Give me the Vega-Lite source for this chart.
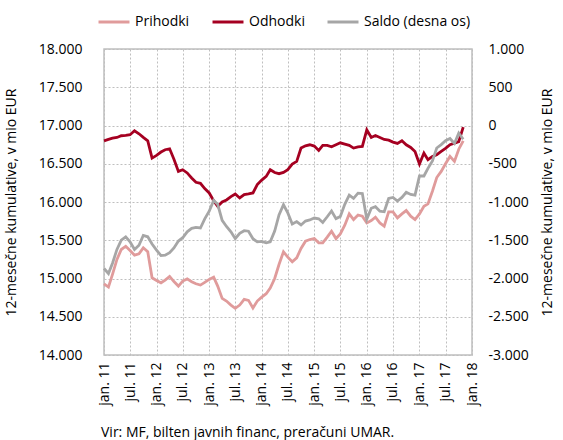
{
  "$schema": "https://vega.github.io/schema/vega-lite/v6.json",
  "width": 368,
  "height": 306,
  "autosize": "none",
  "padding": {"left": 104, "top": 49, "right": 91, "bottom": 85},
  "background": "white",
  "title": {
    "text": "Vir: MF, bilten javnih financ, preračuni UMAR.",
    "orient": "bottom",
    "anchor": "start",
    "frame": "group",
    "fontSize": 14,
    "fontWeight": "normal",
    "font": "Open Sans",
    "color": "#000000",
    "offset": 21,
    "dx": -3
  },
  "data": {
    "values": [
      {"d": "2011-01-01", "p": 14931, "o": 16800, "s": -1869},
      {"d": "2011-02-01", "p": 14888, "o": 16818, "s": -1935},
      {"d": "2011-03-01", "p": 15053, "o": 16835, "s": -1800},
      {"d": "2011-04-01", "p": 15249, "o": 16844, "s": -1620},
      {"d": "2011-05-01", "p": 15379, "o": 16866, "s": -1500},
      {"d": "2011-06-01", "p": 15422, "o": 16870, "s": -1455},
      {"d": "2011-07-01", "p": 15366, "o": 16879, "s": -1520},
      {"d": "2011-08-01", "p": 15305, "o": 16931, "s": -1621},
      {"d": "2011-09-01", "p": 15322, "o": 16892, "s": -1566},
      {"d": "2011-10-01", "p": 15401, "o": 16844, "s": -1438},
      {"d": "2011-11-01", "p": 15349, "o": 16800, "s": -1455},
      {"d": "2011-12-01", "p": 15009, "o": 16574, "s": -1550},
      {"d": "2012-01-01", "p": 14975, "o": 16609, "s": -1628},
      {"d": "2012-02-01", "p": 14944, "o": 16653, "s": -1700},
      {"d": "2012-03-01", "p": 14979, "o": 16683, "s": -1695},
      {"d": "2012-04-01", "p": 15027, "o": 16696, "s": -1662},
      {"d": "2012-05-01", "p": 14960, "o": 16560, "s": -1600},
      {"d": "2012-06-01", "p": 14901, "o": 16400, "s": -1510},
      {"d": "2012-07-01", "p": 14966, "o": 16422, "s": -1467},
      {"d": "2012-08-01", "p": 14995, "o": 16380, "s": -1390},
      {"d": "2012-09-01", "p": 14957, "o": 16314, "s": -1345},
      {"d": "2012-10-01", "p": 14931, "o": 16257, "s": -1332},
      {"d": "2012-11-01", "p": 14914, "o": 16244, "s": -1340},
      {"d": "2012-12-01", "p": 14950, "o": 16175, "s": -1220},
      {"d": "2013-01-01", "p": 14988, "o": 16118, "s": -1120},
      {"d": "2013-02-01", "p": 15018, "o": 16018, "s": -980},
      {"d": "2013-03-01", "p": 14901, "o": 15944, "s": -1030},
      {"d": "2013-04-01", "p": 14740, "o": 16001, "s": -1240},
      {"d": "2013-05-01", "p": 14705, "o": 16027, "s": -1320},
      {"d": "2013-06-01", "p": 14653, "o": 16070, "s": -1390},
      {"d": "2013-07-01", "p": 14610, "o": 16105, "s": -1480},
      {"d": "2013-08-01", "p": 14653, "o": 16053, "s": -1410},
      {"d": "2013-09-01", "p": 14727, "o": 16096, "s": -1375},
      {"d": "2013-10-01", "p": 14714, "o": 16105, "s": -1382},
      {"d": "2013-11-01", "p": 14615, "o": 16118, "s": -1480},
      {"d": "2013-12-01", "p": 14705, "o": 16227, "s": -1521},
      {"d": "2014-01-01", "p": 14757, "o": 16287, "s": -1515},
      {"d": "2014-02-01", "p": 14801, "o": 16335, "s": -1534},
      {"d": "2014-03-01", "p": 14875, "o": 16422, "s": -1520},
      {"d": "2014-04-01", "p": 15000, "o": 16385, "s": -1380},
      {"d": "2014-05-01", "p": 15183, "o": 16370, "s": -1170},
      {"d": "2014-06-01", "p": 15349, "o": 16387, "s": -1036},
      {"d": "2014-07-01", "p": 15279, "o": 16422, "s": -1143},
      {"d": "2014-08-01", "p": 15218, "o": 16496, "s": -1287},
      {"d": "2014-09-01", "p": 15270, "o": 16531, "s": -1256},
      {"d": "2014-10-01", "p": 15392, "o": 16705, "s": -1300},
      {"d": "2014-11-01", "p": 15488, "o": 16735, "s": -1249},
      {"d": "2014-12-01", "p": 15509, "o": 16748, "s": -1235},
      {"d": "2015-01-01", "p": 15522, "o": 16731, "s": -1210},
      {"d": "2015-02-01", "p": 15466, "o": 16674, "s": -1220},
      {"d": "2015-03-01", "p": 15466, "o": 16740, "s": -1267},
      {"d": "2015-04-01", "p": 15540, "o": 16740, "s": -1193},
      {"d": "2015-05-01", "p": 15618, "o": 16722, "s": -1117},
      {"d": "2015-06-01", "p": 15522, "o": 16748, "s": -1217},
      {"d": "2015-07-01", "p": 15583, "o": 16774, "s": -1188},
      {"d": "2015-08-01", "p": 15696, "o": 16757, "s": -1030},
      {"d": "2015-09-01", "p": 15844, "o": 16740, "s": -910},
      {"d": "2015-10-01", "p": 15770, "o": 16705, "s": -952},
      {"d": "2015-11-01", "p": 15830, "o": 16720, "s": -885},
      {"d": "2015-12-01", "p": 15814, "o": 16727, "s": -890},
      {"d": "2016-01-01", "p": 15727, "o": 16944, "s": -1225},
      {"d": "2016-02-01", "p": 15757, "o": 16844, "s": -1082},
      {"d": "2016-03-01", "p": 15801, "o": 16870, "s": -1062},
      {"d": "2016-04-01", "p": 15727, "o": 16844, "s": -1120},
      {"d": "2016-05-01", "p": 15683, "o": 16818, "s": -1128},
      {"d": "2016-06-01", "p": 15870, "o": 16809, "s": -954},
      {"d": "2016-07-01", "p": 15870, "o": 16783, "s": -940},
      {"d": "2016-08-01", "p": 15792, "o": 16766, "s": -987},
      {"d": "2016-09-01", "p": 15844, "o": 16800, "s": -940},
      {"d": "2016-10-01", "p": 15888, "o": 16748, "s": -873},
      {"d": "2016-11-01", "p": 15814, "o": 16713, "s": -902},
      {"d": "2016-12-01", "p": 15770, "o": 16661, "s": -910},
      {"d": "2017-01-01", "p": 15844, "o": 16496, "s": -660},
      {"d": "2017-02-01", "p": 15944, "o": 16640, "s": -660},
      {"d": "2017-03-01", "p": 15975, "o": 16553, "s": -560},
      {"d": "2017-04-01", "p": 16140, "o": 16596, "s": -462},
      {"d": "2017-05-01", "p": 16320, "o": 16618, "s": -294},
      {"d": "2017-06-01", "p": 16400, "o": 16661, "s": -250},
      {"d": "2017-07-01", "p": 16500, "o": 16700, "s": -198},
      {"d": "2017-08-01", "p": 16596, "o": 16748, "s": -170},
      {"d": "2017-09-01", "p": 16531, "o": 16770, "s": -235},
      {"d": "2017-10-01", "p": 16690, "o": 16790, "s": -100},
      {"d": "2017-11-01", "p": 16800, "o": 16979, "s": -180}
    ]
  },
  "encoding": {
    "x": {
      "field": "d", "type": "temporal",
      "scale": {"type": "utc", "domain": [{"year": 2011, "month": 1, "date": 1, "utc": true}, {"year": 2018, "month": 1, "date": 1, "utc": true}]},
      "axis": {
        "title": null,
        "values": [
          {"year": 2011, "month": 1, "date": 1, "utc": true}, {"year": 2011, "month": 7, "date": 1, "utc": true},
          {"year": 2012, "month": 1, "date": 1, "utc": true}, {"year": 2012, "month": 7, "date": 1, "utc": true},
          {"year": 2013, "month": 1, "date": 1, "utc": true}, {"year": 2013, "month": 7, "date": 1, "utc": true},
          {"year": 2014, "month": 1, "date": 1, "utc": true}, {"year": 2014, "month": 7, "date": 1, "utc": true},
          {"year": 2015, "month": 1, "date": 1, "utc": true}, {"year": 2015, "month": 7, "date": 1, "utc": true},
          {"year": 2016, "month": 1, "date": 1, "utc": true}, {"year": 2016, "month": 7, "date": 1, "utc": true},
          {"year": 2017, "month": 1, "date": 1, "utc": true}, {"year": 2017, "month": 7, "date": 1, "utc": true},
          {"year": 2018, "month": 1, "date": 1, "utc": true}
        ],
        "labelExpr": "(utcmonth(datum.value) == 0 ? 'jan. ' : 'jul. ') + utcFormat(datum.value, '%y')",
        "labelAngle": -90,
        "labelAlign": "right",
        "labelBaseline": "middle",
        "labelPadding": 7,
        "labelFlush": false,
        "labelOverlap": false,
        "grid": true
      }
    }
  },
  "layer": [
    {
      "layer": [
        {
          "mark": {"type": "line", "strokeWidth": 2.8, "color": "#E09B9B"},
          "encoding": {
            "y": {
              "field": "p", "type": "quantitative",
              "scale": {"domain": [14000, 18000]},
              "axis": {
                "title": "12-mesečne kumulative, v mio EUR",
                "values": [14000, 14500, 15000, 15500, 16000, 16500, 17000, 17500, 18000],
                "format": ",d",
                "grid": true,
                "labelOverlap": false,
                "labelPadding": 22,
                "titlePadding": 20
              }
            },
            "color": {
              "datum": "Prihodki", "type": "nominal",
              "scale": {"domain": ["Prihodki", "Odhodki", "Saldo (desna os)"], "range": ["#E09B9B", "#A50021", "#A6A6A6"]},
              "legend": {
                "orient": "none", "legendX": -7, "legendY": -44,
                "direction": "horizontal", "title": null,
                "symbolType": "stroke", "symbolSize": 960, "symbolStrokeWidth": 3,
                "labelFontSize": 14, "labelFont": "Open Sans", "labelColor": "#000000",
                "labelOffset": 4, "columnPadding": 16
              }
            }
          }
        },
        {
          "mark": {"type": "line", "strokeWidth": 2.8, "color": "#A50021"},
          "encoding": {
            "y": {
              "field": "o", "type": "quantitative",
              "scale": {"domain": [14000, 18000]},
              "axis": {
                "title": "12-mesečne kumulative, v mio EUR",
                "values": [14000, 14500, 15000, 15500, 16000, 16500, 17000, 17500, 18000],
                "format": ",d",
                "grid": true,
                "labelOverlap": false,
                "labelPadding": 22,
                "titlePadding": 20
              }
            },
            "color": {"datum": "Odhodki", "type": "nominal"}
          }
        }
      ]
    },
    {
      "mark": {"type": "line", "strokeWidth": 2.8, "color": "#A6A6A6"},
      "encoding": {
        "y": {
          "field": "s", "type": "quantitative",
          "scale": {"domain": [-3000, 1000]},
          "axis": {
            "orient": "right",
            "title": "12-mesečne kumulative, v mio EUR",
            "titleAngle": -90,
            "titleBaseline": "top",
            "values": [-3000, -2500, -2000, -1500, -1000, -500, 0, 500, 1000],
            "format": ",d",
            "grid": false,
            "labelOverlap": false,
            "labelPadding": 16,
            "titlePadding": 12
          }
        },
        "color": {"datum": "Saldo (desna os)", "type": "nominal"}
      }
    }
  ],
  "resolve": {"scale": {"y": "independent"}},
  "config": {
    "locale": {"number": {"decimal": ",", "thousands": ".", "grouping": [3], "currency": ["", " €"], "minus": "-"}},
    "font": "Open Sans",
    "view": {"stroke": "#BFBFBF", "strokeWidth": 1.5},
    "axis": {
      "domain": false,
      "ticks": false,
      "labelFont": "Open Sans",
      "labelFontSize": 14,
      "labelColor": "#000000",
      "titleFont": "Open Sans",
      "titleFontSize": 14,
      "titleFontWeight": "normal",
      "titleColor": "#000000",
      "gridColor": "#BFBFBF",
      "gridDash": [2, 2],
      "gridWidth": 1
    }
  }
}
